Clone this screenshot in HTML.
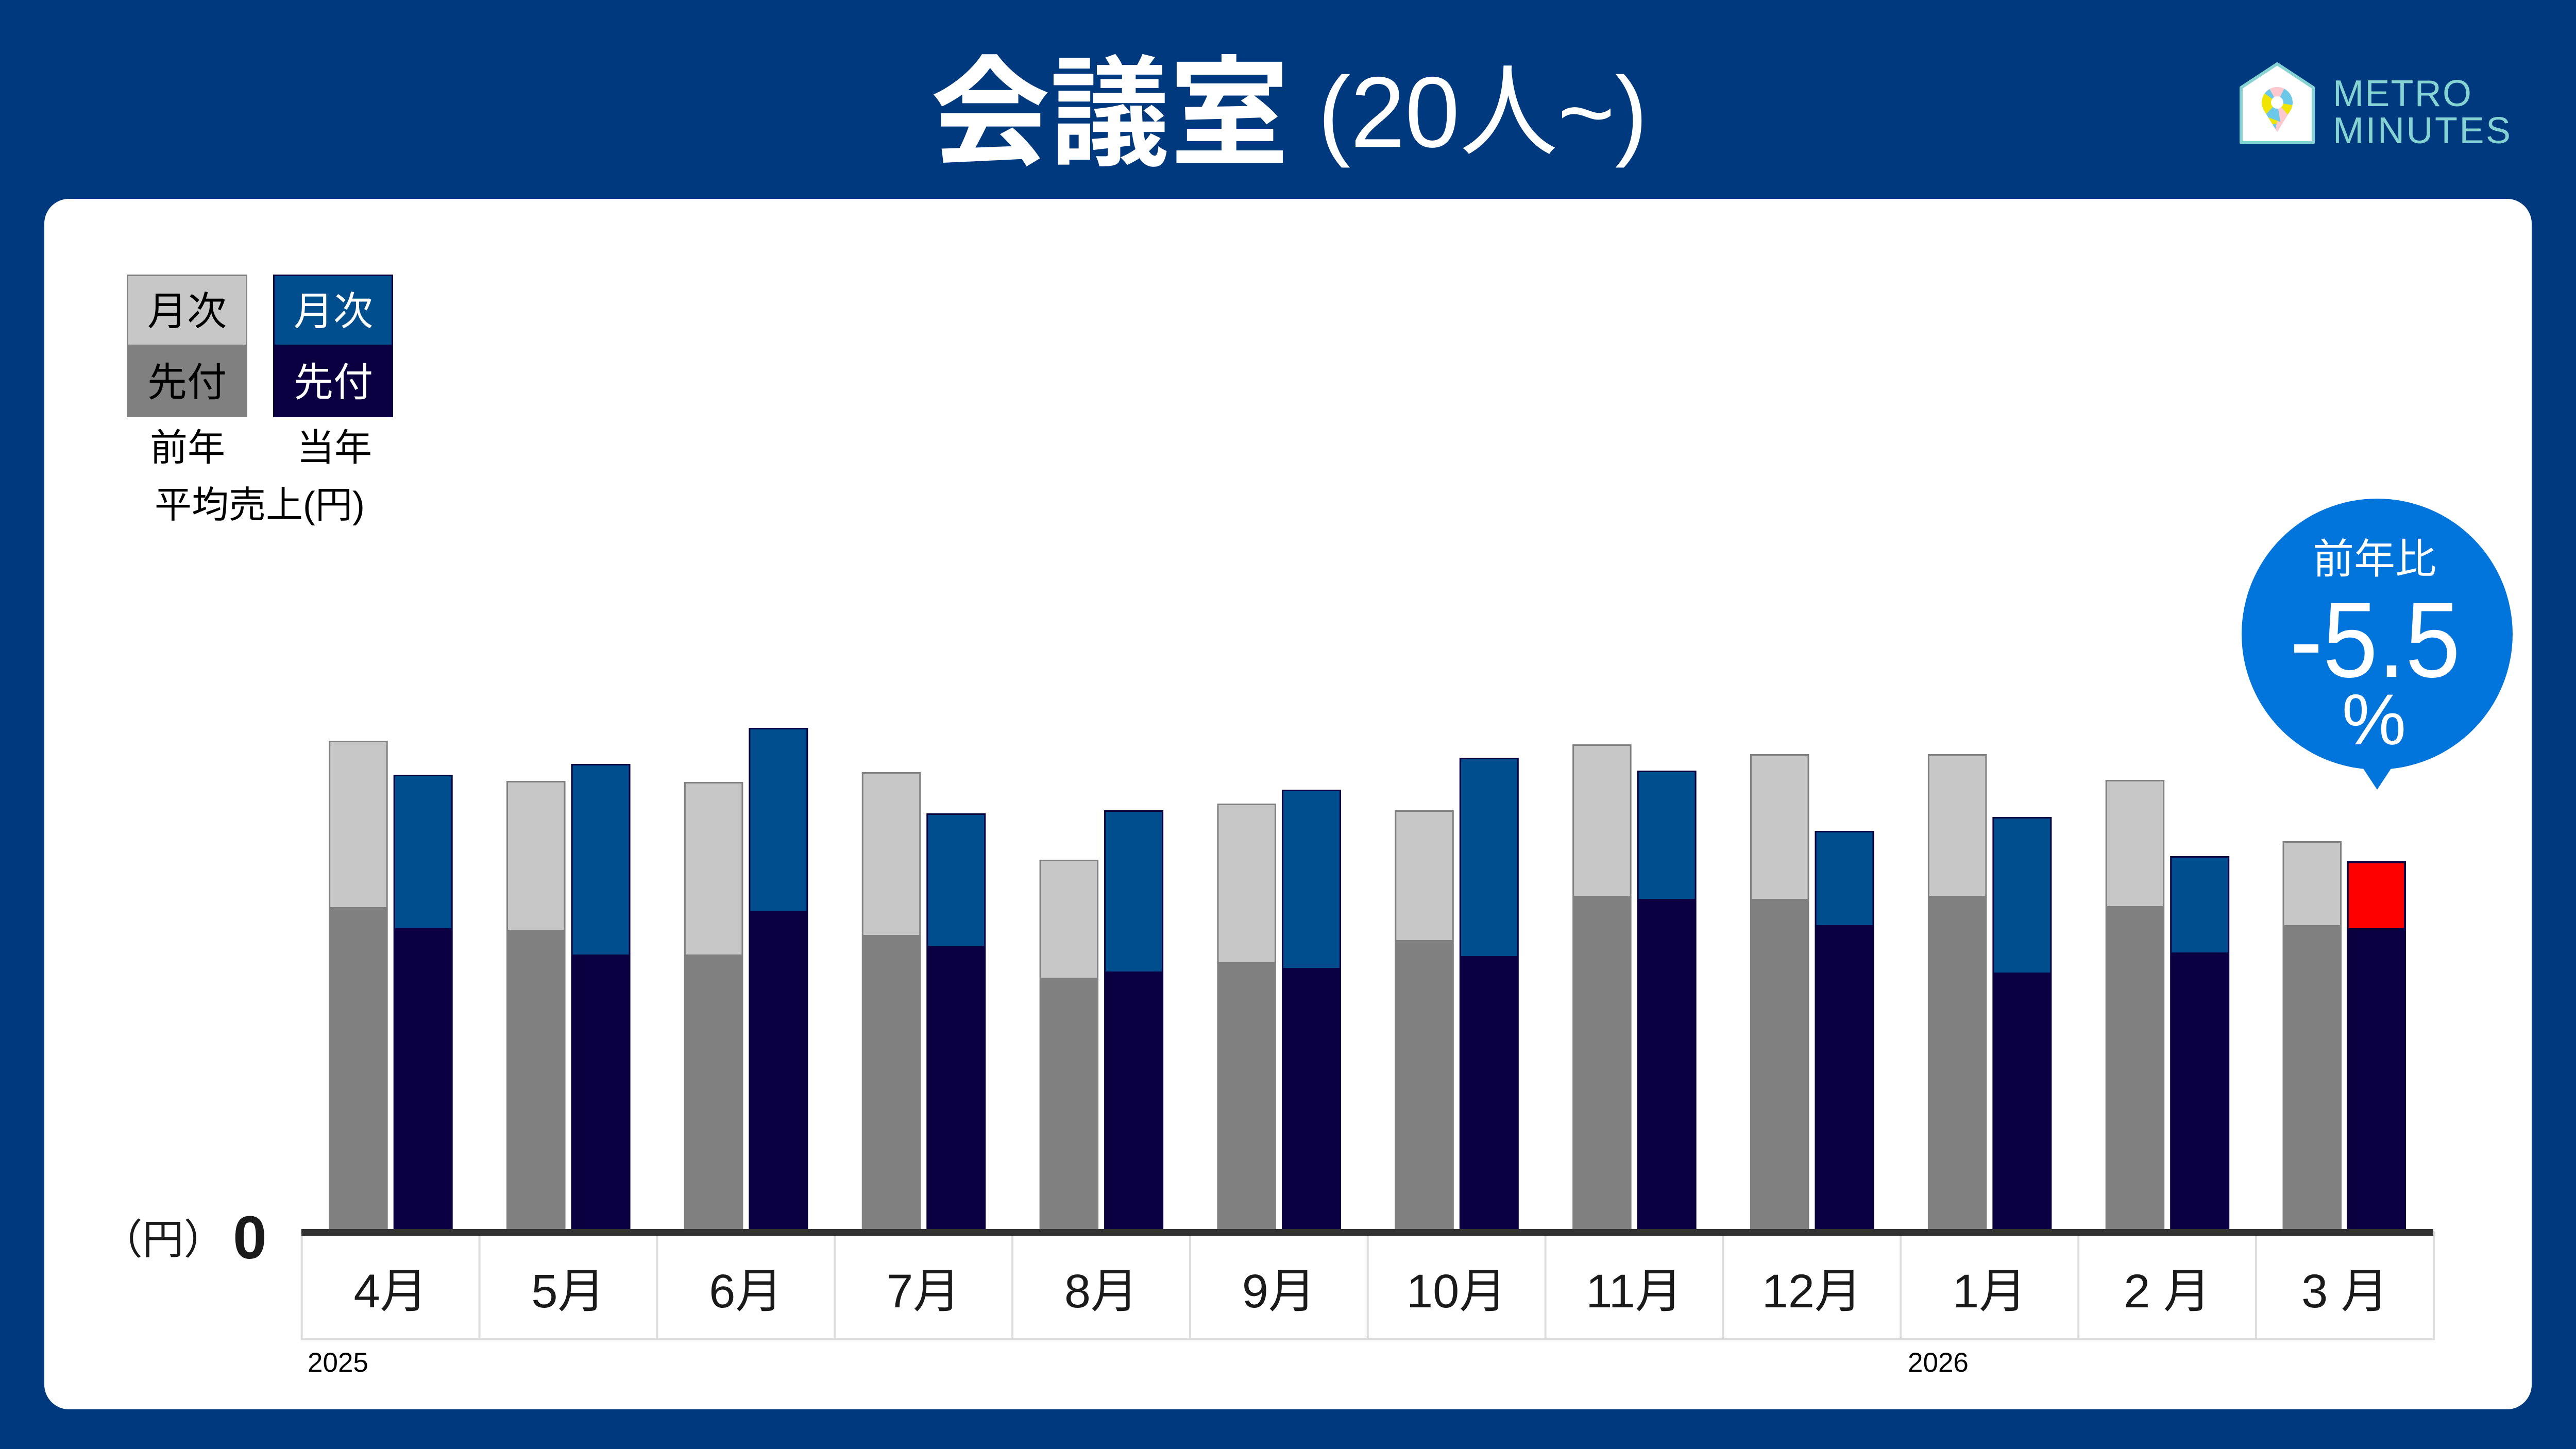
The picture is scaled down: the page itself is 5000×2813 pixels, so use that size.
<!DOCTYPE html>
<html>
<head>
<meta charset="utf-8">
<style>
html,body{margin:0;padding:0;background:#01397E;}
body{width:5000px;height:2813px;overflow:hidden;}
svg{display:block;}
</style>
</head>
<body>
<svg width="5000" height="2813" viewBox="0 0 5000 2813" xmlns="http://www.w3.org/2000/svg">
  <defs>
    <clipPath id="pin">
      <path d="M4420 256 L4394 214 A30 30 0 1 1 4446 214 Z"/>
    </clipPath>
  </defs>
  <!-- background -->
  <rect x="0" y="0" width="5000" height="2813" fill="#01397E"/>

  <!-- title -->
  <text x="1806" y="302" font-family="'Liberation Sans','Noto Sans CJK JP',sans-serif" font-size="232" font-weight="700" fill="#ffffff">会議室</text>
  <text x="2558" y="285" font-family="'Liberation Sans','Noto Sans CJK JP',sans-serif" font-size="195" font-weight="400" fill="#ffffff" textLength="640" lengthAdjust="spacingAndGlyphs">(20人~)</text>

  <!-- logo -->
  <path d="M4350 170 L4420 124 L4490 170 L4490 277 L4350 277 Z" fill="#ffffff" stroke="#85D3D3" stroke-width="6" stroke-linejoin="round"/>
  <g clip-path="url(#pin)">
    <rect x="4385" y="165" width="70" height="95" fill="#6CC8E8"/>
    <polygon points="4420,199 4398,160 4440,160" fill="#FFC8CF"/>
    <polygon points="4420,199 4380,170 4380,222 4395,225" fill="#F0E500"/>
    <polygon points="4420,199 4455,205 4455,215 4440,222" fill="#F0E500"/>
    <polygon points="4420,199 4440,222 4455,215 4428,247" fill="#FFC8CF"/>
    <polygon points="4395,225 4430,238 4390,245" fill="#F0E500"/>
    <polygon points="4420,235 4430,238 4420,260 4415,258" fill="#FFC8CF"/>
  </g>
  <circle cx="4420" cy="199" r="12" fill="#ffffff"/>
  <text x="4528" y="206" font-family="'Liberation Sans',sans-serif" font-size="72" fill="#85D3D3" textLength="269" lengthAdjust="spacing">METRO</text>
  <text x="4528" y="278" font-family="'Liberation Sans',sans-serif" font-size="72" fill="#85D3D3" textLength="345" lengthAdjust="spacing">MINUTES</text>

  <!-- white panel -->
  <rect x="86" y="386" width="4828" height="2350" rx="48" ry="48" fill="#ffffff"/>

  <!-- legend -->
  <rect x="246" y="533" width="234" height="277" fill="#808080"/>
  <rect x="249" y="536" width="228" height="133" fill="#C8C7C8"/>
  <rect x="530" y="533" width="233" height="277" fill="#0A0041"/>
  <rect x="533" y="536" width="227" height="133" fill="#004E8E"/>
  <g font-family="'Liberation Sans','Noto Sans CJK JP',sans-serif" text-anchor="middle">
    <text x="363" y="631" font-size="77" fill="#000000">月次</text>
    <text x="363" y="769" font-size="77" fill="#000000">先付</text>
    <text x="647" y="631" font-size="77" fill="#ffffff">月次</text>
    <text x="647" y="769" font-size="77" fill="#ffffff">先付</text>
    <text x="364" y="894" font-size="73" fill="#000000">前年</text>
    <text x="649" y="894" font-size="73" fill="#000000">当年</text>
    <text x="504" y="1005" font-size="72" fill="#000000">平均売上(円)</text>
  </g>

  <!-- bubble -->
  <circle cx="4614" cy="1231" r="263" fill="#0275DC"/>
  <polygon points="4583,1486 4645,1486 4614,1533" fill="#0275DC"/>
  <text x="4609" y="1113" text-anchor="middle" font-family="'Liberation Sans','Noto Sans CJK JP',sans-serif" font-size="80" fill="#ffffff">前年比</text>
  <text x="4610" y="1314" text-anchor="middle" font-family="'Liberation Sans',sans-serif" font-size="208" fill="#ffffff" textLength="331" lengthAdjust="spacingAndGlyphs">-5.5</text>
  <text x="4608" y="1445" text-anchor="middle" font-family="'Liberation Sans',sans-serif" font-size="140" fill="#ffffff">%</text>

  <!-- bars: prior (gray) -->
  <g>
    <rect x="638.2" y="1438" width="114.5" height="948" fill="#808080"/><rect x="641.2" y="1441" width="108.5" height="320" fill="#C8C7C8"/>
    <rect x="983.05" y="1516" width="114.5" height="870" fill="#808080"/><rect x="986.05" y="1519" width="108.5" height="286" fill="#C8C7C8"/>
    <rect x="1327.9" y="1518" width="114.5" height="868" fill="#808080"/><rect x="1330.9" y="1521" width="108.5" height="332" fill="#C8C7C8"/>
    <rect x="1672.75" y="1499" width="114.5" height="887" fill="#808080"/><rect x="1675.75" y="1502" width="108.5" height="313" fill="#C8C7C8"/>
    <rect x="2017.6" y="1669" width="114.5" height="717" fill="#808080"/><rect x="2020.6" y="1672" width="108.5" height="226" fill="#C8C7C8"/>
    <rect x="2362.45" y="1560" width="114.5" height="826" fill="#808080"/><rect x="2365.45" y="1563" width="108.5" height="305" fill="#C8C7C8"/>
    <rect x="2707.3" y="1573" width="114.5" height="813" fill="#808080"/><rect x="2710.3" y="1576" width="108.5" height="249" fill="#C8C7C8"/>
    <rect x="3052.15" y="1445" width="114.5" height="941" fill="#808080"/><rect x="3055.15" y="1448" width="108.5" height="291" fill="#C8C7C8"/>
    <rect x="3397" y="1464" width="114.5" height="922" fill="#808080"/><rect x="3400" y="1467" width="108.5" height="278" fill="#C8C7C8"/>
    <rect x="3741.85" y="1464" width="114.5" height="922" fill="#808080"/><rect x="3744.85" y="1467" width="108.5" height="272" fill="#C8C7C8"/>
    <rect x="4086.7" y="1514" width="114.5" height="872" fill="#808080"/><rect x="4089.7" y="1517" width="108.5" height="242" fill="#C8C7C8"/>
    <rect x="4430.5" y="1633" width="114.5" height="753" fill="#808080"/><rect x="4433.5" y="1636" width="108.5" height="160" fill="#C8C7C8"/>
  </g>
  <!-- bars: current (blue/navy) -->
  <g>
    <rect x="763.7" y="1504" width="115" height="882" fill="#0A0041"/><rect x="766.7" y="1507" width="109" height="295" fill="#004E8E"/>
    <rect x="1108.55" y="1483" width="115" height="903" fill="#0A0041"/><rect x="1111.55" y="1486" width="109" height="367" fill="#004E8E"/>
    <rect x="1453.4" y="1413" width="115" height="973" fill="#0A0041"/><rect x="1456.4" y="1416" width="109" height="352" fill="#004E8E"/>
    <rect x="1798.25" y="1579" width="115" height="807" fill="#0A0041"/><rect x="1801.25" y="1582" width="109" height="254" fill="#004E8E"/>
    <rect x="2143.1" y="1573" width="115" height="813" fill="#0A0041"/><rect x="2146.1" y="1576" width="109" height="310" fill="#004E8E"/>
    <rect x="2487.95" y="1533" width="115" height="853" fill="#0A0041"/><rect x="2490.95" y="1536" width="109" height="343" fill="#004E8E"/>
    <rect x="2832.8" y="1471" width="115" height="915" fill="#0A0041"/><rect x="2835.8" y="1474" width="109" height="382" fill="#004E8E"/>
    <rect x="3177.65" y="1496" width="115" height="890" fill="#0A0041"/><rect x="3180.65" y="1499" width="109" height="246" fill="#004E8E"/>
    <rect x="3522.5" y="1613" width="115" height="773" fill="#0A0041"/><rect x="3525.5" y="1616" width="109" height="180" fill="#004E8E"/>
    <rect x="3867.35" y="1586" width="115" height="800" fill="#0A0041"/><rect x="3870.35" y="1589" width="109" height="299" fill="#004E8E"/>
    <rect x="4212.2" y="1662" width="115" height="724" fill="#0A0041"/><rect x="4215.2" y="1665" width="109" height="184" fill="#004E8E"/>
    <rect x="4555" y="1672" width="115" height="714" fill="#0A0041"/><rect x="4559" y="1676" width="107" height="126" fill="#FF0000"/>
  </g>

  <!-- category cells -->
  <g fill="#DDDDDD">
    <rect x="584" y="2598" width="4142" height="4"/>
    <rect x="583.7" y="2390" width="4" height="212"/>
    <rect x="928.55" y="2390" width="4" height="212"/>
    <rect x="1273.4" y="2390" width="4" height="212"/>
    <rect x="1618.25" y="2390" width="4" height="212"/>
    <rect x="1963.1" y="2390" width="4" height="212"/>
    <rect x="2307.95" y="2390" width="4" height="212"/>
    <rect x="2652.8" y="2390" width="4" height="212"/>
    <rect x="2997.65" y="2390" width="4" height="212"/>
    <rect x="3342.5" y="2390" width="4" height="212"/>
    <rect x="3687.35" y="2390" width="4" height="212"/>
    <rect x="4032.2" y="2390" width="4" height="212"/>
    <rect x="4377.05" y="2390" width="4" height="212"/>
    <rect x="4721.9" y="2390" width="4" height="212"/>
  </g>
  <!-- axis line -->
  <rect x="585" y="2386" width="4138" height="13" fill="#333333"/>

  <!-- axis label -->
  <text x="316.7" y="2434" text-anchor="middle" font-family="'Liberation Sans','Noto Sans CJK JP',sans-serif" font-size="80" fill="#1a1a1a">（円）</text>
  <text x="485" y="2443" text-anchor="middle" font-family="'Liberation Sans',sans-serif" font-size="118" font-weight="700" fill="#1a1a1a">0</text>

  <!-- month labels -->
  <g font-family="'Liberation Sans','Noto Sans CJK JP',sans-serif" font-size="92" fill="#1a1a1a" text-anchor="middle">
    <text x="758.1" y="2538">4月</text>
    <text x="1102.95" y="2538">5月</text>
    <text x="1447.8" y="2538">6月</text>
    <text x="1792.65" y="2538">7月</text>
    <text x="2137.5" y="2538">8月</text>
    <text x="2482.35" y="2538">9月</text>
    <text x="2827.2" y="2538">10月</text>
    <text x="3172.05" y="2538">11月</text>
    <text x="3516.9" y="2538">12月</text>
    <text x="3861.75" y="2538">1月</text>
    <text x="4206.6" y="2538">2 月</text>
    <text x="4551.45" y="2538">3 月</text>
  </g>

  <!-- year labels -->
  <g font-family="'Liberation Sans',sans-serif" font-size="53" fill="#000000">
    <text x="597" y="2663">2025</text>
    <text x="3703" y="2663">2026</text>
  </g>
</svg>
</body>
</html>
